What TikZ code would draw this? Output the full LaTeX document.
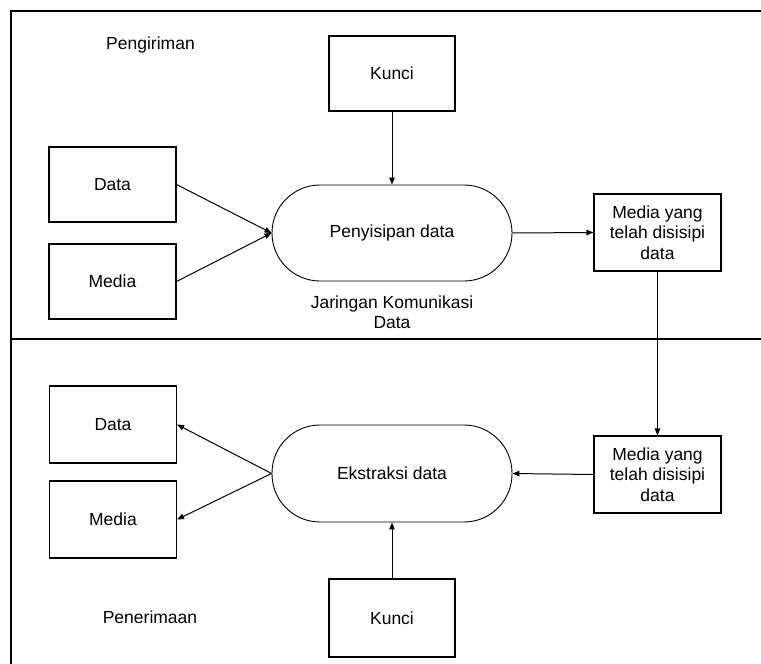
\documentclass[tikz,border=0pt]{standalone}
\usepackage{fontspec}
\setmainfont{Liberation Sans}
\usetikzlibrary{arrows.meta}
\begin{document}
\begin{tikzpicture}[x=1pt,y=-1pt,
  font=\fontsize{17.5}{20.5}\selectfont,
  box/.style={draw,line width=1.1pt,minimum width=127pt,minimum height=75pt,inner sep=2pt,align=center},
  proc/.style={draw,line width=0.9pt,rounded corners=48pt,minimum width=240pt,minimum height=96pt},
  frame/.style={line width=1.5pt},
  arr/.style={line width=1pt,-{Triangle[length=7pt,width=5.5pt]}},
  lbl/.style={inner sep=0pt,align=center}]
\useasboundingbox (0,0) rectangle (761,664);
\draw[frame] (11,664) coordinate (fbl) -- (11,11) coordinate (ftl) -- (761,11) coordinate (ftr);
\draw[frame] (11,339) coordinate (fml) -- (761,339) coordinate (fmr);

\node[lbl] (peng) at (150.5,45) {Pengiriman};
\node[box,minimum width=126pt] (kunciA) at (392,73.5) {Kunci};
\node[box] (dataA) at (112.5,184.5) {Data};
\node[box] (mediaA) at (112.5,281.5) {Media};
\node[proc] (pen) at (392,233) {Penyisipan data};
\node[box,minimum height=77pt] (mdA) at (657.5,232.5) {Media yang\\telah disisipi\\data};
\node[lbl] (jar) at (392,312) {Jaringan Komunikasi\\Data};

\node[box,minimum height=77pt] (dataB) at (113,424.5) {Data};
\node[box,minimum height=77pt] (mediaB) at (113,519.5) {Media};
\node[proc,minimum height=97pt] (ekst) at (392,473.5) {Ekstraksi data};
\node[box,minimum height=77pt] (mdB) at (657.5,474.5) {Media yang\\telah disisipi\\data};
\node[box,minimum width=126pt,minimum height=78pt] (kunciB) at (392,618) {Kunci};
\node[lbl] (pener) at (150,617) {Penerimaan};

\draw[arr] (kunciA.south) -- (pen.north);
\draw[arr] (dataA.east) -- (pen.west);
\draw[arr] (mediaA.east) -- (pen.west);
\draw[arr] (pen.east) -- (mdA.west);
\draw[arr] (mdA.south) -- (mdB.north);
\draw[arr] (mdB.west) -- (ekst.east);
\draw[arr] (kunciB.north) -- (ekst.south);
\draw[arr] (ekst.west) -- (dataB.east);
\draw[arr] (ekst.west) -- (mediaB.east);
\end{tikzpicture}
\end{document}
